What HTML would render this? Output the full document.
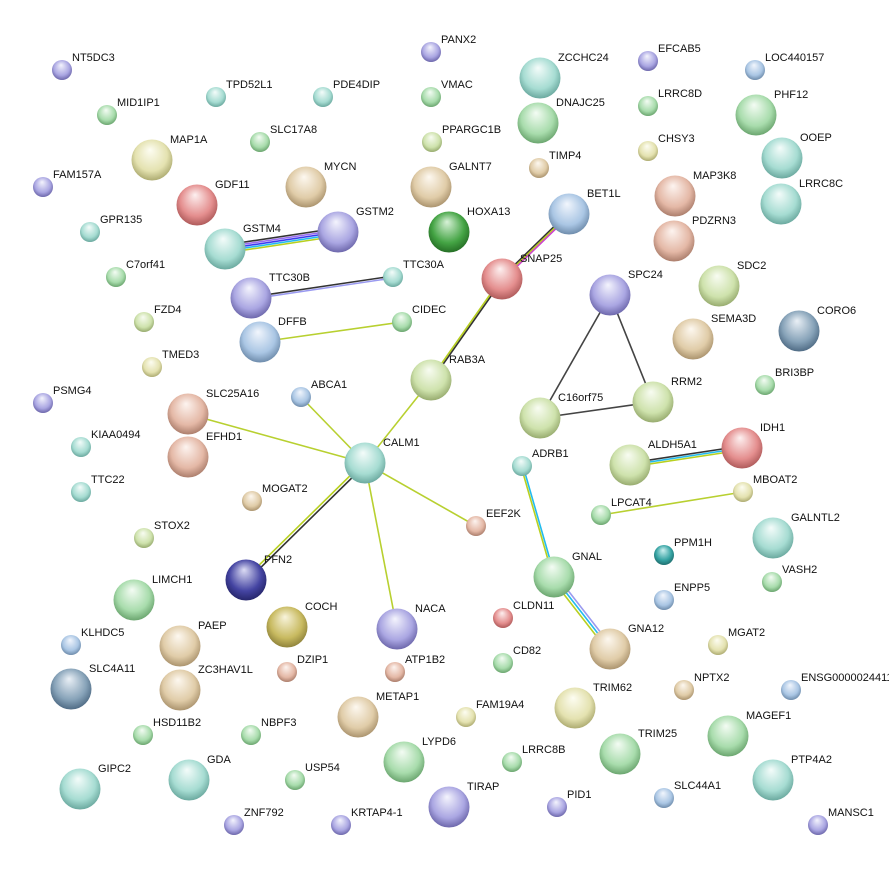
<!DOCTYPE html>
<html><head><meta charset="utf-8"><style>
html,body{margin:0;padding:0;background:#fff;}
svg{display:block;}
text{font-family:"Liberation Sans",sans-serif;font-size:11px;fill:#111;}
</style></head><body>
<svg width="889" height="871" viewBox="0 0 889 871" xmlns="http://www.w3.org/2000/svg">
<defs>
<radialGradient id="teal" cx="50%" cy="45%" r="60%" fx="45%" fy="25%"><stop offset="0" stop-color="#f4fcfa"/><stop offset="0.65" stop-color="#a6dcd2"/><stop offset="1" stop-color="#5e9e94"/></radialGradient>
<radialGradient id="purple" cx="50%" cy="45%" r="60%" fx="45%" fy="25%"><stop offset="0" stop-color="#f4f4fd"/><stop offset="0.65" stop-color="#aaa6e2"/><stop offset="1" stop-color="#605aa0"/></radialGradient>
<radialGradient id="green" cx="50%" cy="45%" r="60%" fx="45%" fy="25%"><stop offset="0" stop-color="#f4fcf4"/><stop offset="0.65" stop-color="#a8dcac"/><stop offset="1" stop-color="#5e9a62"/></radialGradient>
<radialGradient id="yellow" cx="50%" cy="45%" r="60%" fx="45%" fy="25%"><stop offset="0" stop-color="#fdfdf2"/><stop offset="0.65" stop-color="#e4e2b0"/><stop offset="1" stop-color="#a2a064"/></radialGradient>
<radialGradient id="yg" cx="50%" cy="45%" r="60%" fx="45%" fy="25%"><stop offset="0" stop-color="#f8fcf2"/><stop offset="0.65" stop-color="#cee2ac"/><stop offset="1" stop-color="#8ca062"/></radialGradient>
<radialGradient id="salmon" cx="50%" cy="45%" r="60%" fx="45%" fy="25%"><stop offset="0" stop-color="#fdf4f0"/><stop offset="0.65" stop-color="#e4b8a6"/><stop offset="1" stop-color="#a07260"/></radialGradient>
<radialGradient id="tan" cx="50%" cy="45%" r="60%" fx="45%" fy="25%"><stop offset="0" stop-color="#fdf8f0"/><stop offset="0.65" stop-color="#e0cca8"/><stop offset="1" stop-color="#a08862"/></radialGradient>
<radialGradient id="blue" cx="50%" cy="45%" r="60%" fx="45%" fy="25%"><stop offset="0" stop-color="#f2f6fd"/><stop offset="0.65" stop-color="#aac6e4"/><stop offset="1" stop-color="#6280a0"/></radialGradient>
<radialGradient id="red" cx="50%" cy="45%" r="60%" fx="45%" fy="25%"><stop offset="0" stop-color="#fdf0f0"/><stop offset="0.65" stop-color="#e48e8e"/><stop offset="1" stop-color="#a45050"/></radialGradient>
<radialGradient id="dgreen" cx="50%" cy="45%" r="60%" fx="45%" fy="25%"><stop offset="0" stop-color="#d8f2d8"/><stop offset="0.65" stop-color="#44a444"/><stop offset="1" stop-color="#206420"/></radialGradient>
<radialGradient id="navy" cx="50%" cy="45%" r="60%" fx="45%" fy="25%"><stop offset="0" stop-color="#dcdcf4"/><stop offset="0.65" stop-color="#4444a2"/><stop offset="1" stop-color="#202060"/></radialGradient>
<radialGradient id="olive" cx="50%" cy="45%" r="60%" fx="45%" fy="25%"><stop offset="0" stop-color="#f8f4dc"/><stop offset="0.65" stop-color="#c8ba60"/><stop offset="1" stop-color="#847834"/></radialGradient>
<radialGradient id="dteal" cx="50%" cy="45%" r="60%" fx="45%" fy="25%"><stop offset="0" stop-color="#ccf0f0"/><stop offset="0.65" stop-color="#34a2a2"/><stop offset="1" stop-color="#1c6464"/></radialGradient>
<radialGradient id="slate" cx="50%" cy="45%" r="60%" fx="45%" fy="25%"><stop offset="0" stop-color="#eaf0f6"/><stop offset="0.65" stop-color="#86a2b8"/><stop offset="1" stop-color="#44607a"/></radialGradient>
</defs>
<g fill="none" stroke-width="1.6">
<line x1="225" y1="245" x2="338" y2="228" stroke="#333"/>
<line x1="225" y1="247" x2="338" y2="230" stroke="#9a6cf0"/>
<line x1="225" y1="249" x2="338" y2="232" stroke="#3b3bf0"/>
<line x1="225" y1="251" x2="338" y2="234" stroke="#22bbee"/>
<line x1="225" y1="253" x2="338" y2="236" stroke="#b8d020"/>
<line x1="251" y1="297" x2="393" y2="276" stroke="#333"/>
<line x1="251" y1="299" x2="393" y2="278" stroke="#9a9af0"/>
<line x1="260" y1="342" x2="402" y2="322" stroke="#b8d030"/>
<line x1="501" y1="278" x2="568" y2="213" stroke="#333"/>
<line x1="502" y1="279" x2="569" y2="214" stroke="#b8d020"/>
<line x1="503" y1="280" x2="570" y2="215" stroke="#cc44cc"/>
<line x1="503" y1="279" x2="432" y2="380" stroke="#333"/>
<line x1="501" y1="279" x2="430" y2="380" stroke="#b8d020"/>
<line x1="431" y1="380" x2="365" y2="463" stroke="#b8d030"/>
<line x1="365" y1="463" x2="301" y2="397" stroke="#b8d030"/>
<line x1="365" y1="463" x2="188" y2="414" stroke="#b8d030"/>
<line x1="365" y1="463" x2="476" y2="526" stroke="#b8d030"/>
<line x1="365" y1="463" x2="397" y2="629" stroke="#b8d030"/>
<line x1="364" y1="462" x2="245" y2="579" stroke="#b8d020"/>
<line x1="366" y1="464" x2="247" y2="581" stroke="#333"/>
<line x1="610" y1="295" x2="540" y2="418" stroke="#444"/>
<line x1="610" y1="295" x2="653" y2="402" stroke="#444"/>
<line x1="540" y1="418" x2="653" y2="402" stroke="#444"/>
<line x1="630" y1="463" x2="742" y2="446" stroke="#333"/>
<line x1="630" y1="465" x2="742" y2="448" stroke="#22bbee"/>
<line x1="630" y1="467" x2="742" y2="450" stroke="#b8d020"/>
<line x1="601" y1="515" x2="743" y2="492" stroke="#b8d030"/>
<line x1="523" y1="466" x2="555" y2="577" stroke="#22bbee"/>
<line x1="521" y1="466" x2="553" y2="577" stroke="#b8d020"/>
<line x1="556" y1="575" x2="612" y2="647" stroke="#9a9af0"/>
<line x1="554" y1="577" x2="610" y2="649" stroke="#22bbee"/>
<line x1="552" y1="579" x2="608" y2="651" stroke="#b8d020"/>
</g>
<g>
<circle cx="62" cy="70" r="10" fill="url(#purple)"/><text x="72" y="61">NT5DC3</text>
<circle cx="216" cy="97" r="10" fill="url(#teal)"/><text x="226" y="88">TPD52L1</text>
<circle cx="323" cy="97" r="10" fill="url(#teal)"/><text x="333" y="88">PDE4DIP</text>
<circle cx="431" cy="52" r="10" fill="url(#purple)"/><text x="441" y="43">PANX2</text>
<circle cx="431" cy="97" r="10" fill="url(#green)"/><text x="441" y="88">VMAC</text>
<circle cx="648" cy="61" r="10" fill="url(#purple)"/><text x="658" y="52">EFCAB5</text>
<circle cx="755" cy="70" r="10" fill="url(#blue)"/><text x="765" y="61">LOC440157</text>
<circle cx="107" cy="115" r="10" fill="url(#green)"/><text x="117" y="106">MID1IP1</text>
<circle cx="648" cy="106" r="10" fill="url(#green)"/><text x="658" y="97">LRRC8D</text>
<circle cx="260" cy="142" r="10" fill="url(#green)"/><text x="270" y="133">SLC17A8</text>
<circle cx="432" cy="142" r="10" fill="url(#yg)"/><text x="442" y="133">PPARGC1B</text>
<circle cx="648" cy="151" r="10" fill="url(#yellow)"/><text x="658" y="142">CHSY3</text>
<circle cx="539" cy="168" r="10" fill="url(#tan)"/><text x="549" y="159">TIMP4</text>
<circle cx="43" cy="187" r="10" fill="url(#purple)"/><text x="53" y="178">FAM157A</text>
<circle cx="90" cy="232" r="10" fill="url(#teal)"/><text x="100" y="223">GPR135</text>
<circle cx="116" cy="277" r="10" fill="url(#green)"/><text x="126" y="268">C7orf41</text>
<circle cx="144" cy="322" r="10" fill="url(#yg)"/><text x="154" y="313">FZD4</text>
<circle cx="393" cy="277" r="10" fill="url(#teal)"/><text x="403" y="268">TTC30A</text>
<circle cx="402" cy="322" r="10" fill="url(#green)"/><text x="412" y="313">CIDEC</text>
<circle cx="152" cy="367" r="10" fill="url(#yellow)"/><text x="162" y="358">TMED3</text>
<circle cx="43" cy="403" r="10" fill="url(#purple)"/><text x="53" y="394">PSMG4</text>
<circle cx="301" cy="397" r="10" fill="url(#blue)"/><text x="311" y="388">ABCA1</text>
<circle cx="765" cy="385" r="10" fill="url(#green)"/><text x="775" y="376">BRI3BP</text>
<circle cx="81" cy="447" r="10" fill="url(#teal)"/><text x="91" y="438">KIAA0494</text>
<circle cx="522" cy="466" r="10" fill="url(#teal)"/><text x="532" y="457">ADRB1</text>
<circle cx="81" cy="492" r="10" fill="url(#teal)"/><text x="91" y="483">TTC22</text>
<circle cx="743" cy="492" r="10" fill="url(#yellow)"/><text x="753" y="483">MBOAT2</text>
<circle cx="252" cy="501" r="10" fill="url(#tan)"/><text x="262" y="492">MOGAT2</text>
<circle cx="601" cy="515" r="10" fill="url(#green)"/><text x="611" y="506">LPCAT4</text>
<circle cx="476" cy="526" r="10" fill="url(#salmon)"/><text x="486" y="517">EEF2K</text>
<circle cx="144" cy="538" r="10" fill="url(#yg)"/><text x="154" y="529">STOX2</text>
<circle cx="664" cy="555" r="10" fill="url(#dteal)"/><text x="674" y="546">PPM1H</text>
<circle cx="772" cy="582" r="10" fill="url(#green)"/><text x="782" y="573">VASH2</text>
<circle cx="664" cy="600" r="10" fill="url(#blue)"/><text x="674" y="591">ENPP5</text>
<circle cx="503" cy="618" r="10" fill="url(#red)"/><text x="513" y="609">CLDN11</text>
<circle cx="71" cy="645" r="10" fill="url(#blue)"/><text x="81" y="636">KLHDC5</text>
<circle cx="718" cy="645" r="10" fill="url(#yellow)"/><text x="728" y="636">MGAT2</text>
<circle cx="287" cy="672" r="10" fill="url(#salmon)"/><text x="297" y="663">DZIP1</text>
<circle cx="395" cy="672" r="10" fill="url(#salmon)"/><text x="405" y="663">ATP1B2</text>
<circle cx="503" cy="663" r="10" fill="url(#green)"/><text x="513" y="654">CD82</text>
<circle cx="684" cy="690" r="10" fill="url(#tan)"/><text x="694" y="681">NPTX2</text>
<circle cx="791" cy="690" r="10" fill="url(#blue)"/><text x="801" y="681">ENSG00000244115</text>
<circle cx="466" cy="717" r="10" fill="url(#yellow)"/><text x="476" y="708">FAM19A4</text>
<circle cx="143" cy="735" r="10" fill="url(#green)"/><text x="153" y="726">HSD11B2</text>
<circle cx="251" cy="735" r="10" fill="url(#green)"/><text x="261" y="726">NBPF3</text>
<circle cx="512" cy="762" r="10" fill="url(#green)"/><text x="522" y="753">LRRC8B</text>
<circle cx="295" cy="780" r="10" fill="url(#green)"/><text x="305" y="771">USP54</text>
<circle cx="557" cy="807" r="10" fill="url(#purple)"/><text x="567" y="798">PID1</text>
<circle cx="664" cy="798" r="10" fill="url(#blue)"/><text x="674" y="789">SLC44A1</text>
<circle cx="234" cy="825" r="10" fill="url(#purple)"/><text x="244" y="816">ZNF792</text>
<circle cx="341" cy="825" r="10" fill="url(#purple)"/><text x="351" y="816">KRTAP4-1</text>
<circle cx="818" cy="825" r="10" fill="url(#purple)"/><text x="828" y="816">MANSC1</text>

<circle cx="540" cy="78" r="20.5" fill="url(#teal)"/><text x="558" y="61">ZCCHC24</text>
<circle cx="538" cy="123" r="20.5" fill="url(#green)"/><text x="556" y="106">DNAJC25</text>
<circle cx="756" cy="115" r="20.5" fill="url(#green)"/><text x="774" y="98">PHF12</text>
<circle cx="152" cy="160" r="20.5" fill="url(#yellow)"/><text x="170" y="143">MAP1A</text>
<circle cx="782" cy="158" r="20.5" fill="url(#teal)"/><text x="800" y="141">OOEP</text>
<circle cx="197" cy="205" r="20.5" fill="url(#red)"/><text x="215" y="188">GDF11</text>
<circle cx="306" cy="187" r="20.5" fill="url(#tan)"/><text x="324" y="170">MYCN</text>
<circle cx="431" cy="187" r="20.5" fill="url(#tan)"/><text x="449" y="170">GALNT7</text>
<circle cx="675" cy="196" r="20.5" fill="url(#salmon)"/><text x="693" y="179">MAP3K8</text>
<circle cx="781" cy="204" r="20.5" fill="url(#teal)"/><text x="799" y="187">LRRC8C</text>
<circle cx="569" cy="214" r="20.5" fill="url(#blue)"/><text x="587" y="197">BET1L</text>
<circle cx="449" cy="232" r="20.5" fill="url(#dgreen)"/><text x="467" y="215">HOXA13</text>
<circle cx="225" cy="249" r="20.5" fill="url(#teal)"/><text x="243" y="232">GSTM4</text>
<circle cx="338" cy="232" r="20.5" fill="url(#purple)"/><text x="356" y="215">GSTM2</text>
<circle cx="674" cy="241" r="20.5" fill="url(#salmon)"/><text x="692" y="224">PDZRN3</text>
<circle cx="502" cy="279" r="20.5" fill="url(#red)"/><text x="520" y="262">SNAP25</text>
<circle cx="251" cy="298" r="20.5" fill="url(#purple)"/><text x="269" y="281">TTC30B</text>
<circle cx="610" cy="295" r="20.5" fill="url(#purple)"/><text x="628" y="278">SPC24</text>
<circle cx="719" cy="286" r="20.5" fill="url(#yg)"/><text x="737" y="269">SDC2</text>
<circle cx="260" cy="342" r="20.5" fill="url(#blue)"/><text x="278" y="325">DFFB</text>
<circle cx="693" cy="339" r="20.5" fill="url(#tan)"/><text x="711" y="322">SEMA3D</text>
<circle cx="799" cy="331" r="20.5" fill="url(#slate)"/><text x="817" y="314">CORO6</text>
<circle cx="431" cy="380" r="20.5" fill="url(#yg)"/><text x="449" y="363">RAB3A</text>
<circle cx="653" cy="402" r="20.5" fill="url(#yg)"/><text x="671" y="385">RRM2</text>
<circle cx="540" cy="418" r="20.5" fill="url(#yg)"/><text x="558" y="401">C16orf75</text>
<circle cx="188" cy="414" r="20.5" fill="url(#salmon)"/><text x="206" y="397">SLC25A16</text>
<circle cx="742" cy="448" r="20.5" fill="url(#red)"/><text x="760" y="431">IDH1</text>
<circle cx="630" cy="465" r="20.5" fill="url(#yg)"/><text x="648" y="448">ALDH5A1</text>
<circle cx="188" cy="457" r="20.5" fill="url(#salmon)"/><text x="206" y="440">EFHD1</text>
<circle cx="365" cy="463" r="20.5" fill="url(#teal)"/><text x="383" y="446">CALM1</text>
<circle cx="773" cy="538" r="20.5" fill="url(#teal)"/><text x="791" y="521">GALNTL2</text>
<circle cx="554" cy="577" r="20.5" fill="url(#green)"/><text x="572" y="560">GNAL</text>
<circle cx="246" cy="580" r="20.5" fill="url(#navy)"/><text x="264" y="563">PFN2</text>
<circle cx="134" cy="600" r="20.5" fill="url(#green)"/><text x="152" y="583">LIMCH1</text>
<circle cx="287" cy="627" r="20.5" fill="url(#olive)"/><text x="305" y="610">COCH</text>
<circle cx="397" cy="629" r="20.5" fill="url(#purple)"/><text x="415" y="612">NACA</text>
<circle cx="180" cy="646" r="20.5" fill="url(#tan)"/><text x="198" y="629">PAEP</text>
<circle cx="610" cy="649" r="20.5" fill="url(#tan)"/><text x="628" y="632">GNA12</text>
<circle cx="71" cy="689" r="20.5" fill="url(#slate)"/><text x="89" y="672">SLC4A11</text>
<circle cx="180" cy="690" r="20.5" fill="url(#tan)"/><text x="198" y="673">ZC3HAV1L</text>
<circle cx="358" cy="717" r="20.5" fill="url(#tan)"/><text x="376" y="700">METAP1</text>
<circle cx="575" cy="708" r="20.5" fill="url(#yellow)"/><text x="593" y="691">TRIM62</text>
<circle cx="728" cy="736" r="20.5" fill="url(#green)"/><text x="746" y="719">MAGEF1</text>
<circle cx="404" cy="762" r="20.5" fill="url(#green)"/><text x="422" y="745">LYPD6</text>
<circle cx="620" cy="754" r="20.5" fill="url(#green)"/><text x="638" y="737">TRIM25</text>
<circle cx="189" cy="780" r="20.5" fill="url(#teal)"/><text x="207" y="763">GDA</text>
<circle cx="773" cy="780" r="20.5" fill="url(#teal)"/><text x="791" y="763">PTP4A2</text>
<circle cx="80" cy="789" r="20.5" fill="url(#teal)"/><text x="98" y="772">GIPC2</text>
<circle cx="449" cy="807" r="20.5" fill="url(#purple)"/><text x="467" y="790">TIRAP</text>
</g>
</svg>
</body></html>
